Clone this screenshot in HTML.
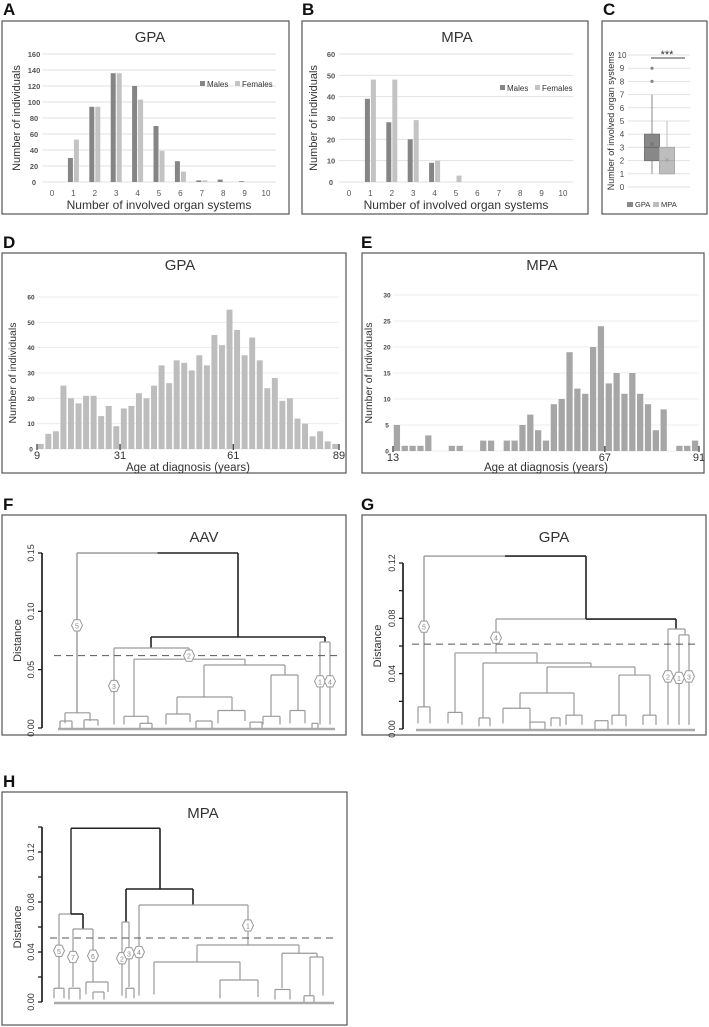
<!DOCTYPE html>
<html><head><meta charset="utf-8"><style>
body{margin:0;background:#fff;width:709px;height:1027px;overflow:hidden;font-family:"Liberation Sans",sans-serif}
svg{position:absolute;left:0;top:0}
</style></head><body>
<svg id="s" width="709" height="1027" viewBox="0 0 709 1027" font-family="Liberation Sans, sans-serif"></svg>
<script>
// ---- data ----
const organCats=[0,1,2,3,4,5,6,7,8,9,10];
const gpaMales=[0,30,94,136,120,70,26,2,3,1,0];
const gpaFemales=[0,53,94,136,103,39,13,2,0,0,0];
const gpaTicks=[0,20,40,60,80,100,120,140,160];
const mpaMales=[0,39,28,20,9,0,0,0,0,0,0];
const mpaFemales=[0,48,48,29,10,3,0,0,0,0,0];
const mpaTicks=[0,10,20,30,40,50,60];
const boxGroups=["GPA","MPA"];
const boxQ1=[2,1],boxMed=[3,2],boxQ3=[4,3],boxLo=[1,1],boxHi=[7,5],boxMean=[3.25,2.05];
const boxOutliers=[[8,9],[]];
const boxTicks=[0,1,2,3,4,5,6,7,8,9,10];
const gpaAgeCounts=[2,6,7,25,20,18,21,21,13,17,9,16,17,22,20,25,33,26,35,34,31,37,33,45,41,55,47,37,44,35,24,28,19,20,12,10,5,7,3,2];
const gpaAgeTicks=[9,31,61,89];
const gpaAgeYTicks=[0,10,20,30,40,50,60];
const mpaAgeCounts=[5,1,1,1,3,0,0,1,1,0,0,2,2,0,2,2,5,7,4,2,9,10,19,12,11,20,24,13,15,11,15,11,9,4,8,0,1,1,2];
const mpaAgeTicks=[13,67,91];
const mpaAgeYTicks=[0,5,10,15,20,25,30];
// dendrogram links: [xLeft, xRight, height, heightLeft, heightRight, color]
const aavLinks=[[151,325,.078,.0686,.0737,'k'],[114,189,.0686,.003,.059,'g'],[320,330,.0737,.003,.003,'g'],[134,245,.059,.01,.054,'g'],[204,285,.054,.0266,.0454,'g'],[177,232,.0266,.012,.015,'g'],[271,298,.0454,.01,.015,'g'],[65,90,.013,.004,.006,'g'],[124,148,.01,.003,.004,'g'],[166,190,.012,.003,.005,'g'],[218,245,.015,.004,.006,'g'],[263,280,.01,.003,.003,'g'],[290,305,.015,.004,.004,'g'],[60,72,.006,0,0,'g'],[84,98,.007,0,.002,'g'],[140,152,.004,0,0,'g'],[196,212,.006,0,0,'g'],[250,262,.005,0,0,'g'],[312,318,.004,0,0,'g']];
const aavTop=[77,238,.15,.013,.078];
const gpaLinks=[[496,586,.0795,.055,.0795,'g'],[586,676,.0795,.0795,.0723,'k'],[668,685,.0723,.003,.068,'g'],[679,689,.068,.003,.003,'g'],[455,537,.055,.012,.0477,'g'],[483,591,.0477,.008,.0448,'g'],[547,635,.0448,.026,.039,'g'],[520,574,.026,.015,.01,'g'],[619,650,.039,.01,.01,'g'],[418,430,.016,.004,.004,'g'],[448,462,.012,.004,.003,'g'],[479,490,.008,.002,.002,'g'],[503,530,.015,.004,.004,'g'],[551,560,.008,.002,.002,'g'],[566,582,.01,.003,.003,'g'],[612,626,.01,.003,.002,'g'],[643,656,.01,.003,.003,'g'],[530,545,.005,0,0,'g'],[595,608,.006,0,0,'g']];
const gpaTop=[424,586,.125,.016,.0795];
const mpaLinks=[[71,83,.0704,.0704,.0584,'k'],[73,93,.0584,.012,.016,'g'],[126,193,.0904,.064,.0776,'k'],[122,129,.064,.005,.012,'g'],[139,248,.0776,.005,.0456,'g'],[197,299,.0456,.032,.039,'g'],[154,240,.032,.006,.0176,'g'],[220,258,.0176,.003,.004,'g'],[282,317,.039,.011,.036,'g'],[310,323,.036,.005,.005,'g'],[54,64,.011,.003,.003,'g'],[69,80,.011,.002,.002,'g'],[86,108,.016,.006,.008,'g'],[93,104,.008,.002,.002,'g'],[126,134,.011,.003,.003,'g'],[275,290,.01,.002,.002,'g'],[304,314,.005,0,0,'g']];
const mpaTop=[71,160,.139,.0704,.0904];
// ---- helpers ----
const S=document.getElementById('s');const NS='http://www.w3.org/2000/svg';
function el(t,a,txt){const e=document.createElementNS(NS,t);for(const k in a)e.setAttribute(k,a[k]);if(txt!==undefined)e.textContent=txt;S.appendChild(e);return e;}
function lin(d0,d1,r0,r1){return v=>r0+(v-d0)/(d1-d0)*(r1-r0);}
function panel(lbl,x,y,w,h,lx,ly){
 let t=el('text',{x:lx,y:ly,'font-size':17,'font-weight':'bold',fill:'#111'},lbl);
 
 
 let r=el('rect',{x:x,y:y,width:w,height:h,fill:'none',stroke:'#555','stroke-width':1.2});
 
 
}
function txt(x,y,s,size,name,extra){const a=Object.assign({x:x,y:y,'font-size':size,fill:'#333','text-anchor':'middle'},extra||{});const t=el('text',a,s);
 
 return t;}
// ---- A / B grouped bars ----
function legY(l){return l==='A'?87:91;}
function grouped(lbl,x0,males,females,ticks,max,legX){
 const X=lin(0,10,x0+10,x0+224),Y=lin(0,max,182,54);
 ticks.forEach(v=>{const g=el('line',{x1:x0,x2:x0+234,y1:Y(v),y2:Y(v),stroke:'#e2e2e2'});
  
  
  txt(x0-8,Y(v)+3,v,7.5,'y-tick-label',{'font-weight':'bold',fill:'#555'});});
 organCats.forEach((c,i)=>{
  txt(X(c),196,c,8,'x-tick-label',{fill:'#555'});
  if(males[i]>0){const b=el('rect',{x:X(c)-5.5,y:Y(males[i]),width:5,height:Y(0)-Y(males[i]),fill:'#858585'});
   
   }
  if(females[i]>0){const b=el('rect',{x:X(c)+0.5,y:Y(females[i]),width:5,height:Y(0)-Y(females[i]),fill:'#c3c3c3'});
   
   }
 });
 el('rect',{x:legX,y:legY(lbl)-6,width:5,height:5,fill:'#858585'});
 txt(legX+7,legY(lbl),'Males',8,'legend-entry-males',{'text-anchor':'start'});
 el('rect',{x:legX+35,y:legY(lbl)-6,width:5,height:5,fill:'#c3c3c3'});
 txt(legX+42,legY(lbl),'Females',8,'legend-entry-females',{'text-anchor':'start'});
 txt(x0+117,209,'Number of involved organ systems',12,'x-axis-title');
 txt(0,0,'Number of individuals',11,'y-axis-title',{transform:`translate(${x0-22},118) rotate(-90)`});
}
panel('A',2,21,287,193,3,15);
txt(150,42,'GPA',15,'chart-title-a');
grouped('A',42,gpaMales,gpaFemales,gpaTicks,160,200);
panel('B',302,21,286,193,302,15);
txt(457,42,'MPA',15,'chart-title-b');
grouped('B',339,mpaMales,mpaFemales,mpaTicks,60,500);
// ---- C boxplot ----
panel('C',602,21,105,193,603,15);
(function(){const Y=lin(0,10,187,55);
 boxTicks.forEach(v=>{const g=el('line',{x1:628,x2:690,y1:Y(v),y2:Y(v),stroke:'#e2e2e2'});
  
  
  txt(622,Y(v)+3,v,8,'y-tick-label',{fill:'#444'});});
 const cx=[652,667],cols=['#888','#bdbdbd'];
 boxGroups.forEach((g,i)=>{
  el('line',{x1:cx[i],x2:cx[i],y1:Y(boxLo[i]),y2:Y(boxHi[i]),stroke:cols[i]});
  const b=el('rect',{x:cx[i]-7.5,y:Y(boxQ3[i]),width:15,height:Y(boxQ1[i])-Y(boxQ3[i]),fill:cols[i],stroke:i?'#aaa':'#777'});
  
  
  el('line',{x1:cx[i]-7.5,x2:cx[i]+7.5,y1:Y(boxMed[i]),y2:Y(boxMed[i]),stroke:i?'#aaa':'#666'});
  txt(cx[i],Y(boxMean[i])+3,'×',9,'mean-marker',{fill:i?'#999':'#666'});
  boxOutliers[i].forEach(o=>{const c=el('circle',{cx:cx[i],cy:Y(o),r:1.6,fill:'#888'});
   
   });
 });
 txt(667,58,'***',11,'significance-stars');
 el('line',{x1:651,x2:685,y1:58,y2:58,stroke:'#444','stroke-width':1});
 txt(0,0,'Number of involved organ systems',9,'y-axis-title',{transform:'translate(614,121) rotate(-90)'});
 el('rect',{x:627,y:202,width:6,height:5,fill:'#888'});txt(635,207,'GPA',7.5,'legend-entry-gpa',{'text-anchor':'start'});
 el('rect',{x:653,y:202,width:6,height:5,fill:'#bdbdbd'});txt(661,207,'MPA',7.5,'legend-entry-mpa',{'text-anchor':'start'});
})();
// ---- D / E histograms ----
function hist(lbl,counts,start,end,ticks,yticks,ymax,x0,x1,y0,y1,col,title,tx){
 const bw=(end-start)/counts.length;
 const X=lin(start,end,x0,x1),Y=lin(0,ymax,y0,y1);
 yticks.forEach(v=>{const g=el('line',{x1:x0,x2:x1,y1:Y(v),y2:Y(v),stroke:'#ececec'});
  
  
  txt(x0-6,Y(v)+2.5,v,6.5,'y-tick-label',{'font-weight':'bold',fill:'#444'});});
 counts.forEach((c,i)=>{const xa=X(start+i*bw),xb=X(start+(i+1)*bw);
  const b=el('rect',{x:xa+0.8,y:Y(c),width:xb-xa-1.6,height:Math.max(Y(0)-Y(c),0),fill:col});
  
  
  if(c===0){el('line',{x1:xa+0.8,x2:xb-0.8,y1:Y(0),y2:Y(0),stroke:'#eee'});}
 });
 ticks.forEach(t=>{el('line',{x1:X(t),x2:X(t),y1:Y(0)-5,y2:Y(0)+1,stroke:'#333','stroke-width':1.2});
  txt(X(t),Y(0)+10,t,11,'x-tick-label',{fill:'#333'});});
 txt(tx,270,title,15,'chart-title-'+lbl.toLowerCase());
 txt((x0+x1)/2,471,'Age at diagnosis (years)',11.5,'x-axis-title');
 txt(0,0,'Number of individuals',10.5,'y-axis-title',{transform:`translate(${x0-21},${(y0+y1)/2}) rotate(-90)`});
}
panel('D',2,253,344,220,3,248);
hist('D',gpaAgeCounts,9,89,gpaAgeTicks,gpaAgeYTicks,60,37,339,449,297,'#bdbdbd','GPA',180);
panel('E',362,253,342,220,361,248);
hist('E',mpaAgeCounts,13,91,mpaAgeTicks,mpaAgeYTicks,30,393,699,451,295,'#a6a6a6','MPA',542);
// ---- dendrograms ----
function hexLabel(x,y,n){const p=[];for(let k=0;k<6;k++){const a=Math.PI/3*k;p.push((x+5.5*Math.cos(a))+','+(y+6.5*Math.sin(a)));}
 const h=el('polygon',{points:p.join(' '),fill:'#fff',stroke:'#999','stroke-width':1});
 
 
 txt(x,y+3,n,7,'cluster-number',{fill:'#888'});}
function dendro(name,Y,xa,xb,links,top,ticks,axisX,dash,labels){
 const g='#9a9a9a',k='#222';
 const ln=(x1,y1,x2,y2,c,w)=>{const l=el('line',{x1:x1,y1:y1,x2:x2,y2:y2,stroke:c,'stroke-width':w||1.2});
  
  };
 ln(xa,Y(0)+1,xb,Y(0)+1,'#aaa',2.5);
 links.forEach(L=>{const c=L[5]==='k'?k:g;const w=L[5]==='k'?1.6:1.2;
  ln(L[0],Y(L[2]),L[1],Y(L[2]),c,w);
  if(L[3]!==L[2])ln(L[0],Y(L[3]),L[0],Y(L[2]),c,w);
  if(L[4]!==L[2])ln(L[1],Y(L[4]),L[1],Y(L[2]),c,w);});
 const mid=(top[0]+top[1])/2;
 ln(top[0],Y(top[2]),mid,Y(top[2]),name==='MPA'?k:g,1.4);
 ln(mid,Y(top[2]),top[1],Y(top[2]),k,1.6);
 ln(top[0],Y(top[3]),top[0],Y(top[2]),name==='MPA'?k:g,1.4);
 ln(top[1],Y(top[4]),top[1],Y(top[2]),k,1.6);
 ln(axisX,Y(ticks[0]),axisX,Y(ticks[ticks.length-1]),'#111',1.6);
 ticks.forEach(t=>{ln(axisX-4,Y(t),axisX,Y(t),'#111',1.2);});
 const d=el('line',{x1:xa-4,x2:xb+2,y1:Y(dash),y2:Y(dash),stroke:'#555','stroke-width':1,'stroke-dasharray':'7,5'});
 
 
 labels.forEach(l=>hexLabel(l[0],Y(l[1]),l[2]));
}
// F
panel('F',2,515,344,220,3,510);
txt(204,542,'AAV',15,'chart-title-f');
(function(){const Y=lin(0,0.15,728,553);const tl=[0,0.05,0.10,0.15];
 dendro('AAV',Y,58,335,aavLinks,aavTop,tl,42,0.062,[[77,.088,5],[114,.036,3],[189,.062,2],[320,.04,1],[330,.04,4]]);
 ['0.00','0.05','0.10','0.15'].forEach((s,i)=>txt(0,0,s,9,'y-tick-label',{transform:`translate(${34},${Y(tl[i])}) rotate(-90)`,fill:'#333'}));
 txt(0,0,'Distance',11,'y-axis-title',{transform:`translate(21,${Y(0.075)}) rotate(-90)`});})();
// G
panel('G',362,515,344,220,361,510);
txt(554,542,'GPA',15,'chart-title-g');
(function(){const Y=lin(0,0.12,729,563);const tl=[0,0.02,0.04,0.06,0.08,0.10,0.12];
 dendro('GPA',Y,416,695,gpaLinks,gpaTop,tl,403,0.0614,[[424,.074,5],[496,.066,4],[668,.038,2],[679,.037,1],[689,.038,3]]);
 [[0,'0.00'],[0.04,'0.04'],[0.08,'0.08'],[0.12,'0.12']].forEach(p=>txt(0,0,p[1],9,'y-tick-label',{transform:`translate(395,${Y(p[0])}) rotate(-90)`,fill:'#333'}));
 txt(0,0,'Distance',11,'y-axis-title',{transform:`translate(381,${Y(0.06)}) rotate(-90)`});})();
// H
panel('H',2,792,345,233,3,787);
txt(203,818,'MPA',15,'chart-title-h');
(function(){const Y=lin(0,0.12,1002,852);
 el('line',{x1:59,x2:71,y1:Y(.0704),y2:Y(.0704),stroke:'#9a9a9a','stroke-width':1.2});
 el('line',{x1:59,x2:59,y1:Y(.011),y2:Y(.0704),stroke:'#9a9a9a','stroke-width':1.2});
 dendro('MPA',Y,54,334,mpaLinks,mpaTop,[0,0.02,0.04,0.06,0.08,0.10,0.12,0.14],42,0.0512,[[59,.041,5],[73,.036,7],[93,.037,6],[122,.035,2],[129,.039,3],[139,.04,4],[248,.0612,1]]);
 [[0,'0.00'],[0.04,'0.04'],[0.08,'0.08'],[0.12,'0.12']].forEach(p=>txt(0,0,p[1],9,'y-tick-label',{transform:`translate(34,${Y(p[0])}) rotate(-90)`,fill:'#333'}));
 txt(0,0,'Distance',11,'y-axis-title',{transform:`translate(21,${Y(0.06)}) rotate(-90)`});})();
</script>
</body></html>
